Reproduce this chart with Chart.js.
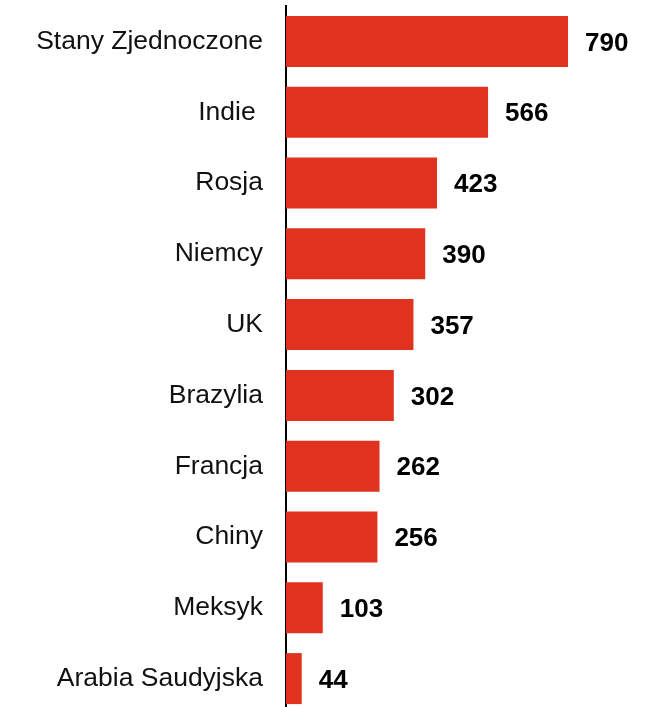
<!DOCTYPE html>
<html>
<head>
<meta charset="utf-8">
<script src="https://cdn.jsdelivr.net/npm/chart.js@4/dist/chart.umd.min.js"></script>
<style>
  html, body { margin: 0; padding: 0; background: #fff; overflow: hidden; }
  #wrap { width: 653px; height: 720px; position: relative; }
</style>
</head>
<body>
<div id="wrap"><canvas id="barChart"></canvas></div>
<script>
// dane
var countries = ['Stany Zjednoczone', 'Indie ', 'Rosja', 'Niemcy', 'UK', 'Brazylia', 'Francja', 'Chiny', 'Meksyk', 'Arabia Saudyjska'];
var values = [790, 566, 423, 390, 357, 302, 262, 256, 103, 44];

// napisy z wartosciami przy slupkach
var valueLabels = {
  id: 'valueLabels',
  afterDatasetsDraw: function(chart) {
    var ctx = chart.ctx;
    var meta = chart.getDatasetMeta(0);
    ctx.save();
    ctx.font = 'bold 26px "Liberation Sans", Arial, sans-serif';
    ctx.fillStyle = '#000';
    ctx.textBaseline = 'middle';
    ctx.textAlign = 'left';
    meta.data.forEach(function(bar, i) {
      ctx.fillText(values[i], bar.x + 17, bar.y + 2);
    });
    ctx.restore();
  }
};

var ctx = document.getElementById('barChart').getContext('2d');
var barChart = new Chart(ctx, {
  type: 'bar',
  data: {
    labels: countries,
    datasets: [{
      data: values,
      backgroundColor: 'rgb(224,50,31)',
      barPercentage: 0.72,
      categoryPercentage: 1
    }]
  },
  options: {
    indexAxis: 'y',
    responsive: true,
    maintainAspectRatio: false,
    animation: false,
    layout: { padding: { top: 6, bottom: 6, left: 0, right: 0 } },
    plugins: { legend: { display: false }, tooltip: { enabled: false } },
    scales: {
      x: { display: false, min: 0, max: 1028 },
      y: {
        afterFit: function(axis) {
          axis.width = 286;
          axis.paddingTop = 0;
          axis.paddingBottom = 0;
        },
        grid: { display: false, drawTicks: false },
        border: { display: true, color: '#000', width: 2 },
        ticks: {
          color: '#111',
          padding: 23,
          font: { family: '"Liberation Sans", Arial, sans-serif', size: 26.5 }
        }
      }
    }
  },
  plugins: [valueLabels]
});
</script>
</body>
</html>
